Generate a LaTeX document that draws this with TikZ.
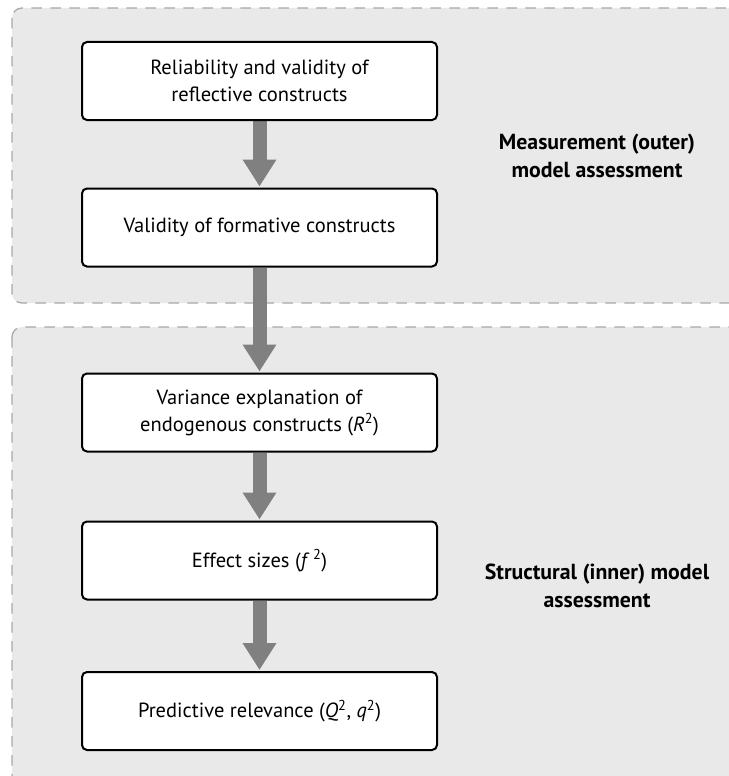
\documentclass[tikz,border=0pt]{standalone}
\usepackage{fontspec}
\setmainfont{PT Sans}
\usetikzlibrary{arrows.meta,backgrounds}

\definecolor{panelfill}{HTML}{E9E9E9}
\definecolor{paneledge}{HTML}{A8A8A8}
\definecolor{flowgray}{HTML}{808080}

\tikzset{
  stagebox/.style={draw=black, line width=2pt, fill=white, rounded corners=5pt,
    minimum width=355pt, minimum height=78pt, align=center,
    font=\fontsize{20.5}{27}\selectfont, inner sep=0pt},
  panel/.style={fill=panelfill, draw=paneledge, line width=1.3pt,
    dash pattern=on 10.5pt off 8.5pt, rounded corners=10pt},
  flow/.style={draw=flowgray, line width=14pt,
    -{Triangle[width=32pt,length=27pt,fill=flowgray,color=flowgray]}, shorten >=1pt},
  phase/.style={align=center, font=\fontsize{21.8}{28}\selectfont\bfseries}
}

\begin{document}
\begin{tikzpicture}[x=1pt,y=-1pt]
  \useasboundingbox (0,0) rectangle (728,776);

  % assessment stages
  \node[stagebox] (rel) at (259.5,81)
    {Reliability and validity of\\reflective constructs};
  \node[stagebox] (form) at (259.5,227.5)
    {Validity of formative constructs};
  \node[stagebox] (var) at (259.5,412.5)
    {Variance explanation of\\endogenous constructs (\textit{R}\textsuperscript{2})};
  \node[stagebox] (eff) at (259.5,560.5)
    {Effect sizes (\textit{f}\,\textsuperscript{2})};
  \node[stagebox] (pred) at (259.5,711)
    {Predictive relevance (\textit{Q}\textsuperscript{2}, \textit{q}\textsuperscript{2})};

  % phase labels
  \node[phase] (outer) at (597,156) {Measurement (outer)\\model assessment};
  \node[phase] (inner) at (597,586) {Structural (inner) model\\assessment};

  \begin{pgfonlayer}{background}
    % grouping panels
    \draw[panel] (12,8) rectangle (760,303);
    \draw[panel] (12,327) rectangle (760,790);
    % flow arrows between stages
    \draw[flow] (rel.south) -- (form.north);
    \draw[flow] (form.south) -- (var.north);
    \draw[flow] (var.south) -- (eff.north);
    \draw[flow] (eff.south) -- (pred.north);
  \end{pgfonlayer}
\end{tikzpicture}
\end{document}
